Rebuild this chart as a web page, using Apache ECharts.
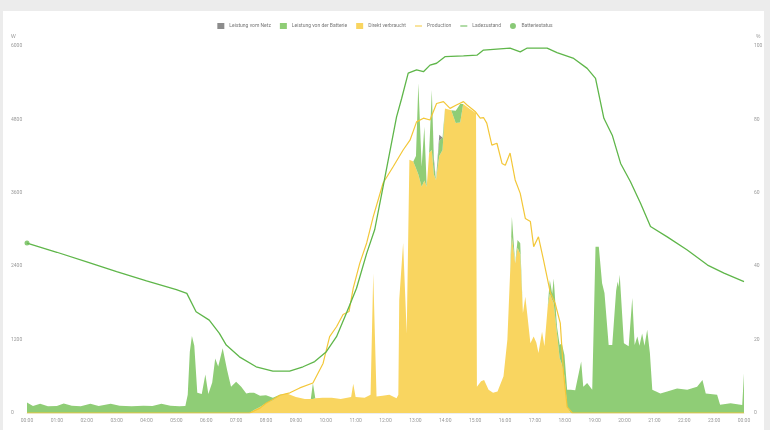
<!DOCTYPE html>
<html><head><meta charset="utf-8">
<script src="https://cdn.jsdelivr.net/npm/echarts@6.0.0/dist/echarts.min.js"></script>
<style>
html,body{margin:0;padding:0;background:#ececec;width:770px;height:430px;overflow:hidden}
#card{position:absolute;left:3px;top:11px;width:761px;height:419px;background:#fff}
#chart{position:absolute;left:0;top:0;width:770px;height:430px}
</style></head><body>
<div id="card"></div><div id="chart"></div>
<script>
// shared time grid (hours) for the stacked power areas
const areaTimes = [
 0,0.2,0.44,0.7,1.0,1.23,1.5,1.8,2.12,2.4,2.8,3.1,3.5,3.9,4.2,4.5,4.8,5.1,5.3,
 5.38,5.45,5.52,5.6,5.7,5.85,5.97,6.07,6.2,6.3,6.4,6.55,6.7,6.83,7.0,7.17,7.34,
 7.45,7.6,7.8,8.0,8.23,8.46,8.7,9.0,9.3,9.5,9.57,9.65,9.9,10.2,10.5,10.85,10.92,11.0,11.3,11.5,11.59,11.7,11.9,
 12.13,12.37,12.43,12.46,12.59,12.71,12.8,12.93,13.02,13.1,13.21,13.3,13.38,13.46,13.55,13.62,13.69,13.8,13.91,13.99,14.2,14.35,14.5,14.6,14.8,14.95,15.03,
 15.06,15.2,15.3,15.45,15.6,15.75,15.95,16.08,16.17,16.23,16.34,16.42,16.51,16.6,16.68,16.76,16.85,16.96,17.05,17.12,17.24,17.32,17.43,17.5,17.58,17.63,17.74,17.83,17.9,17.99,18.08,
 18.2,18.35,18.55,18.62,18.75,18.92,19.03,19.14,19.25,19.33,19.47,19.59,19.72,19.77,19.8,19.84,19.98,20.14,20.26,20.34,20.43,20.5,20.59,20.67,20.76,20.85,20.93,21.2,21.43,21.76,22.1,22.43,22.61,22.72,23.1,23.2,23.55,23.94,24.0
];
const direktVerbraucht = [
 0,0,0,0,0,0,0,0,0,0,0,0,0,0,0,0,0,0,0,
 0,0,0,0,0,0,0,0,0,0,0,0,0,0,0,0,0,
 0,50,100,160,210,290,320,260,230,230,230,240,250,250,230,260,480,260,250,300,2280,270,280,
 300,240,300,1850,2780,1300,4140,4110,4000,3900,3700,3800,3700,4250,4300,3900,3810,4200,4300,4980,4950,4740,4750,5050,4980,4930,4900,
 430,520,540,380,330,350,600,1200,2280,2880,2450,2700,2600,1630,1900,1550,1140,1250,1150,980,1330,1090,1740,1950,1850,1800,1300,900,800,600,100,
 0,0,0,0,0,0,0,0,0,0,0,0,0,0,0,0,0,0,0,0,0,0,0,0,0,0,0,0,0,0,0,0,0,0,0,0,0,0,0
];
const batterie = [
 170,115,150,110,115,155,120,110,150,115,150,120,110,120,115,150,120,110,115,
 300,1000,1260,1100,330,310,630,310,500,890,760,1060,700,430,510,430,320,
 330,280,180,130,40,10,0,0,0,0,260,0,0,0,0,0,0,0,0,0,0,0,0,
 0,0,0,0,0,0,0,0,200,1490,330,880,0,0,980,200,0,250,200,0,0,200,300,0,0,0,0,
 0,0,0,0,0,0,0,0,0,330,0,130,175,0,0,0,0,0,0,0,0,0,0,225,100,400,110,210,340,350,280,
 380,370,840,430,490,380,2720,2720,2120,1960,1110,1110,2000,2150,2060,2260,1140,1090,1880,1110,1250,1100,1300,1100,1360,980,380,320,350,400,380,430,540,320,300,135,160,130,650
];
const netz = [
 0,0,0,0,0,0,0,0,0,0,0,0,0,0,0,0,0,0,0,
 0,0,0,0,0,0,0,0,0,0,0,0,0,0,0,0,0,
 0,0,0,0,0,0,0,0,0,0,0,0,0,0,0,0,0,0,0,0,0,0,0,
 0,0,0,0,0,0,0,0,0,0,0,0,0,0,0,60,0,100,0,0,0,0,0,0,0,0,0,
 0,0,0,0,0,0,0,0,0,0,0,0,0,0,0,0,0,0,0,0,0,0,0,0,0,0,0,0,0,0,0,
 0,0,0,0,0,0,0,0,0,0,0,0,0,0,0,0,0,0,0,0,0,0,0,0,0,0,0,0,0,0,0,0,0,0,0,0,0,0,0
];
// production line [hour, W]
const production = [
 [0,0],[7.45,0],[7.8,80],[8.0,160],[8.23,220],[8.46,290],[8.8,330],[9.13,410],[9.57,490],[9.91,810],
 [10.13,1250],[10.36,1410],[10.58,1610],[10.78,1660],[10.92,2040],[11.14,2450],[11.37,2780],[11.59,3210],
 [11.92,3760],[12.26,4030],[12.59,4300],[12.82,4460],[13.04,4760],[13.27,4820],[13.49,4790],[13.71,5060],
 [13.94,5090],[14.16,4980],[14.39,5040],[14.61,5090],[14.72,5040],[15.0,4930],[15.17,4820],[15.28,4830],
 [15.39,4740],[15.56,4380],[15.73,4410],[15.9,4080],[16.01,4050],[16.17,4250],[16.34,3810],[16.51,3590],
 [16.68,3180],[16.85,3130],[16.96,2720],[17.12,2880],[17.29,2500],[17.52,1960],[17.68,1790],[17.85,1470],
 [17.96,650],[18.08,100],[18.25,0],[24,0]
];
// state of charge [hour, %]
const ladezustand = [
 [0,46.3],[1,43.8],[2,41.2],[3,38.5],[4,36],[5,33.6],[5.35,32.6],[5.66,27.6],[6.1,25.3],[6.44,21.7],
 [6.67,18.5],[7.11,15.3],[7.67,12.6],[8.23,11.4],[8.79,11.4],[9.24,12.6],[9.63,14],[10.02,16.7],[10.36,20.8],
 [10.69,27.2],[11.03,34],[11.37,43.5],[11.64,50],[11.92,61.7],[12.37,80.7],[12.54,85.7],[12.76,92.6],
 [13.04,93.5],[13.27,93],[13.49,94.8],[13.71,95.3],[13.99,97.1],[14.61,97.3],[15.06,97.5],[15.28,98.9],
 [16.17,99.4],[16.51,98.4],[16.73,99.4],[17.41,99.4],[17.74,98.2],[18.3,96.6],[18.75,93.9],[19.03,91.2],
 [19.31,80.3],[19.59,75.7],[19.87,68],[20.2,63],[20.54,57.1],[20.87,50.8],[21.43,48],[22.1,44.4],
 [22.78,40.3],[23.33,38.1],[24,35.8]
];
const batteriestatus = [[0,46.3]];

const leftTicks = {min:0,max:6000,interval:1200};
const rightTicks = {min:0,max:100,interval:20};

const HOUR = 3600000;
const DAY0 = Date.UTC(2024,5,1);
const toT = h => DAY0 + h*HOUR;
const mk = arr => areaTimes.map((t,i)=>[toT(t), arr[i]]);
const mkp = list => list.map(p=>[toT(p[0]), p[1]]);
const C = {grid:'#8c8c8c', batt:'#8fcd76', direct:'#f9d560', prod:'#f3c738', soc:'#5fb64a', stat:'#6cbc55'};
const FS = 5;
const lab = {fontSize:FS,color:'#999',fontFamily:'Roboto, "Noto Sans", sans-serif'};
const lineIcon = 'path://M0,0 L10,0 L10,1.4 L0,1.4 Z';

const chart = echarts.init(document.getElementById('chart'), null, {renderer:'canvas'});
chart.setOption({
 animation:false,
 useUTC:true,
 backgroundColor:'transparent',
 textStyle:{fontFamily:'Roboto, "Noto Sans", sans-serif'},
 legend:{top:18,left:'center',itemWidth:7,itemHeight:6,itemGap:9,
   textStyle:{fontSize:FS,color:'#777'},
   data:[{name:'Leistung vom Netz',icon:'rect'},{name:'Leistung von der Batterie',icon:'rect'},
         {name:'Direkt verbraucht',icon:'rect'},{name:'Production',icon:lineIcon},{name:'Ladezustand',icon:lineIcon},
         {name:'Batteriestatus',icon:'circle'}]},
 grid:{left:27,right:26,top:46,bottom:17},
 graphic:[
   {type:'text',left:11,top:34,style:{text:'W',fontSize:FS,fill:'#999'}},
   {type:'text',left:756,top:34,style:{text:'%',fontSize:FS,fill:'#999'}}
 ],
 xAxis:[
  {type:'time',min:toT(0),max:toT(24),minInterval:HOUR,maxInterval:HOUR,axisLine:{show:false},axisTick:{show:false},splitLine:{show:false},
   axisLabel:Object.assign({margin:5,showMinLabel:true,showMaxLabel:true,hideOverlap:false,
     formatter:v=>String(new Date(v).getUTCHours()).padStart(2,'0')+':00'},lab)},
  {type:'time',position:'top',min:toT(0),max:toT(24),axisLine:{show:true,lineStyle:{color:'#eeeeee'}},axisTick:{show:false},
   axisLabel:{show:false},splitLine:{show:false}}
 ],
 yAxis:[
  Object.assign({type:'value',axisLine:{show:false},axisTick:{show:false},splitLine:{show:false},
   axisLabel:Object.assign({align:'left',margin:16,formatter:v=>String(v)},lab)},leftTicks),
  Object.assign({type:'value',position:'right',axisLine:{show:false},axisTick:{show:false},splitLine:{show:false},
   axisLabel:Object.assign({align:'left',margin:10,formatter:v=>String(v)},lab)},rightTicks)
 ],
 series:[
  {name:'Direkt verbraucht',type:'line',stack:'p',data:mk(direktVerbraucht),symbol:'none',lineStyle:{width:0},
   areaStyle:{color:C.direct,opacity:1},itemStyle:{color:C.direct},z:2},
  {name:'Leistung von der Batterie',type:'line',stack:'p',data:mk(batterie),symbol:'none',lineStyle:{width:0},
   areaStyle:{color:C.batt,opacity:1},itemStyle:{color:C.batt},z:2},
  {name:'Leistung vom Netz',type:'line',stack:'p',data:mk(netz),symbol:'none',lineStyle:{width:0},
   areaStyle:{color:C.grid,opacity:1},itemStyle:{color:C.grid},z:2},
  {name:'Production',type:'line',data:mkp(production),symbol:'none',lineStyle:{width:1.2,color:C.prod},itemStyle:{color:C.prod},z:4},
  {name:'Ladezustand',type:'line',yAxisIndex:1,data:mkp(ladezustand),symbol:'none',lineStyle:{width:1.3,color:C.soc},itemStyle:{color:C.soc},z:5},
  {name:'Batteriestatus',type:'scatter',yAxisIndex:1,data:mkp(batteriestatus),symbolSize:5,itemStyle:{color:C.stat},z:6}
 ]
});
</script></body></html>
